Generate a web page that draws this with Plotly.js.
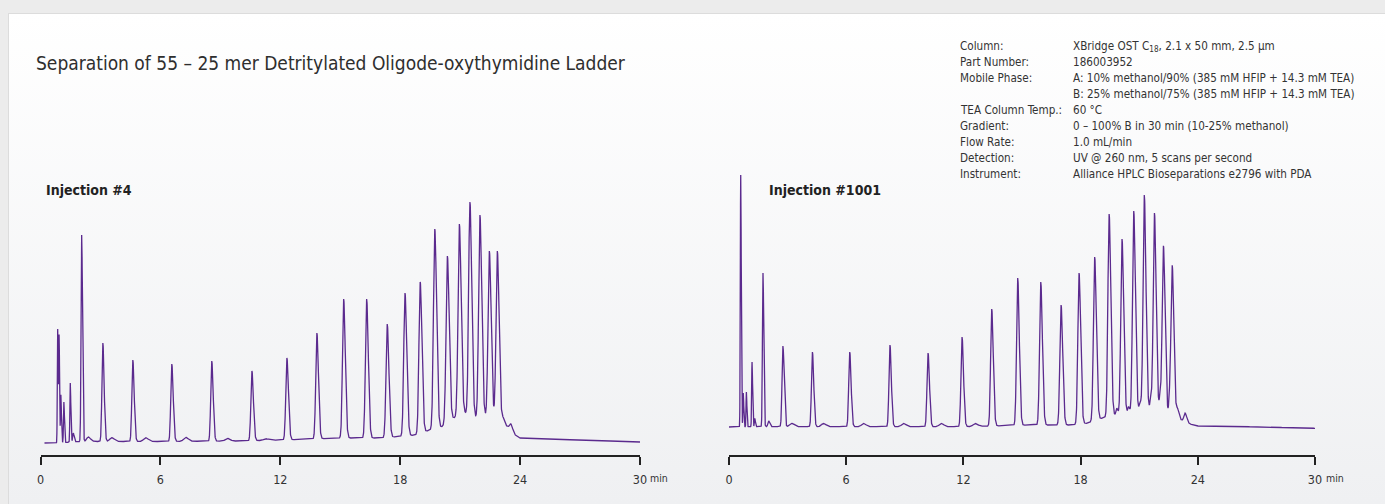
<!DOCTYPE html>
<html><head><meta charset="utf-8">
<script src="https://cdn.plot.ly/plotly-3.0.1.min.js"></script>
<style>
html,body{margin:0;padding:0;width:1385px;height:504px;overflow:hidden;background:#ececec;}
#panel{position:absolute;left:8px;top:13px;right:0;bottom:0;background:linear-gradient(#ffffff,#eff0f2);border-top:1px solid #dcdcdc;border-left:1px solid #dcdcdc;}
#chart{position:absolute;left:0;top:0;width:1385px;height:504px;}
</style></head><body><div id="panel"></div><div id="chart"></div>
<script>
// ---------- DATA ----------
const xTicks = [0, 6, 12, 18, 24, 30];
const xTickLabels = ['0', '6', '12', '18', '24', '30'];

// Injection #4: retention time (min), apex signal, peak sigma (min)
const inj4PeakTime  = [0.86,0.93,1.02,1.17,1.49,1.64,2.06,2.39,3.12,3.56,4.62,5.26,6.57,7.26,8.57,9.34,10.58,11.27,12.33,13.83,15.17,16.32,17.35,18.24,19.00,19.73,20.36,20.96,21.49,21.99,22.46,22.86,23.14,23.54];
const inj4PeakLevel = [126,118,60,53,72,22,220,18,112,17.3,95,17.3,91,17.7,94,16.7,84,16.3,97,122,156,156,131,162,173,226,199,231,253,240,204,204,37,31];
const inj4PeakSigma = [0.018,0.018,0.018,0.02,0.02,0.03,0.03,0.08,0.045,0.1,0.048,0.1,0.05,0.1,0.05,0.1,0.052,0.1,0.055,0.056,0.058,0.06,0.06,0.062,0.062,0.065,0.065,0.065,0.065,0.065,0.065,0.065,0.05,0.06];
const inj4BaseTime  = [0.2,0.8,2,6,10,12,13.5,15,16,16.94,17.9,18.74,19.49,20.07,20.65,21.24,21.74,22.19,22.66,23.0,23.4,23.75,24.0,25,27,30];
const inj4BaseLevel = [12,12,13.5,13.5,14,15,16,17,17,17,18.3,20,25,28,36.7,41.7,36.7,38.3,36.7,31.7,28.3,20,17,16,15,13];

// Injection #1001
const inj1001PeakTime  = [0.60,0.73,0.89,1.18,1.32,1.74,2.03,2.76,3.21,4.27,4.83,6.18,6.88,8.24,8.93,10.19,10.86,11.93,12.60,13.45,14.78,15.96,17.00,17.92,18.72,19.46,19.85,20.12,20.45,20.72,21.04,21.26,21.59,21.78,22.07,22.24,22.55,22.69,22.96,23.35];
const inj1001PeakLevel = [280,62,63,93,36.7,182,34,109,31.7,103,31.5,103,31.5,110,31.5,102,31.5,118,31.5,146,177,173,150,182,198,241,46.7,216,48.3,244,53.3,260,56.7,242,58.3,209,55,189,46,42];
const inj1001PeakSigma = [0.02,0.018,0.018,0.02,0.02,0.028,0.04,0.045,0.1,0.048,0.1,0.05,0.1,0.05,0.1,0.052,0.1,0.054,0.1,0.056,0.058,0.06,0.06,0.06,0.062,0.062,0.04,0.062,0.04,0.062,0.04,0.062,0.04,0.062,0.04,0.062,0.04,0.062,0.05,0.06];
const inj1001BaseTime  = [0,1,12,15.5,17.5,18.3,19.08,19.76,20.36,20.87,21.39,21.9,22.41,22.84,23.15,23.6,23.9,25,30];
const inj1001BaseLevel = [28,28.3,28.3,30,30,31.7,36.7,40,41,43,45,45,40,36.7,35,31,29,29,26.7];

const TAIL = 1.4;       // right/left half-width ratio of the peaks
const STEP = 0.005;     // sampling step, min

// ---------- helpers ----------
function baselineAt(t, bt, bv){
  if (t <= bt[0]) return bv[0];
  for (let i = 1; i < bt.length; i++){
    if (t <= bt[i]){ const f = (t - bt[i-1]) / (bt[i] - bt[i-1]); return bv[i-1] + f * (bv[i] - bv[i-1]); }
  }
  return bv[bv.length - 1];
}
function buildTrace(t0, t1, pt, pl, ps, bt, bv){
  const amps = pt.map((p, i) => pl[i] - baselineAt(p, bt, bv));
  const xs = [], ys = [];
  const n = Math.round((t1 - t0) / STEP);
  for (let k = 0; k <= n; k++){
    const t = t0 + k * STEP;
    let s = baselineAt(t, bt, bv);
    for (let i = 0; i < pt.length; i++){
      const sg = t < pt[i] ? ps[i] : ps[i] * TAIL;
      const d = (t - pt[i]) / sg;
      if (Math.abs(d) < 8) s += amps[i] * Math.exp(-0.5 * d * d);
    }
    xs.push(t); ys.push(s);
  }
  return {x: xs, y: ys};
}

const W = 1385, H = 504;
const px = v => v / W, py = v => 1 - v / H;
const FONT = '"DejaVu Sans Condensed", "Liberation Sans Narrow", sans-serif';
const LINE = '#5b2a8e';

const a = buildTrace(0.2, 30, inj4PeakTime, inj4PeakLevel, inj4PeakSigma, inj4BaseTime, inj4BaseLevel);
const b = buildTrace(0, 30, inj1001PeakTime, inj1001PeakLevel, inj1001PeakSigma, inj1001BaseTime, inj1001BaseLevel);

const traces = [
  {x: a.x, y: a.y, type: 'scatter', mode: 'lines', xaxis: 'x', yaxis: 'y', line: {color: LINE, width: 1.3}, hoverinfo: 'skip', name: 'Injection #4'},
  {x: b.x, y: b.y, type: 'scatter', mode: 'lines', xaxis: 'x2', yaxis: 'y2', line: {color: LINE, width: 1.3}, hoverinfo: 'skip', name: 'Injection #1001'}
];

const yDom = [py(455), py(155)];
function xAxis(dom, anchor){
  return {domain: dom, anchor: anchor, range: [0, 30], fixedrange: true,
    tickvals: xTicks, ticktext: xTickLabels, ticks: 'outside', ticklen: 8, tickwidth: 2, tickcolor: '#222',
    showline: true, linecolor: '#222', linewidth: 1.5, showgrid: false, zeroline: false,
    tickfont: {family: FONT, size: 12.5, color: '#333'}, ticklabelstandoff: 4};
}
function yAxis(anchor){
  return {domain: yDom, anchor: anchor, range: [0, 300], visible: false, fixedrange: true};
}

const infoLabels = ['Column:', 'Part Number:', 'Mobile Phase:', '', 'TEA Column Temp.:', 'Gradient:', 'Flow Rate:', 'Detection:', 'Instrument:'];
const infoValues = ['XBridge OST C<sub>18</sub>, 2.1 x 50 mm, 2.5 µm', '186003952',
  'A: 10% methanol/90% (385 mM HFIP + 14.3 mM TEA)', 'B: 25% methanol/75% (385 mM HFIP + 14.3 mM TEA)',
  '60 °C', '0 – 100% B in 30 min (10-25% methanol)', '1.0 mL/min', 'UV @ 260 nm, 5 scans per second',
  'Alliance HPLC Bioseparations e2796 with PDA'];

const ann = [];
function txt(text, x, y, size, color, opts){
  ann.push(Object.assign({text: text, xref: 'paper', yref: 'paper', x: px(x), y: py(y), xanchor: 'left', yanchor: 'middle',
    showarrow: false, font: {family: FONT, size: size, color: color || '#333'}}, opts || {}));
}
txt('Separation of 55 – 25 mer Detritylated Oligode-oxythymidine Ladder', 34, 63, 19, '#2e2e2e');
infoLabels.forEach((l, i) => { if (l) txt(l, 958, 46 + i * 16.04, 11.6); });
infoValues.forEach((v, i) => txt(v, 1071, 46 + i * 16.04, 11.6));
txt('<b>Injection #4</b>', 44, 190, 14, '#222');
txt('<b>Injection #1001</b>', 767, 190, 14, '#222');
txt('min', 648, 478, 10.5);
txt('min', 1324, 478, 10.5);

const layout = {
  width: W, height: H, autosize: false, margin: {l: 0, r: 0, t: 0, b: 0},
  paper_bgcolor: 'rgba(0,0,0,0)', plot_bgcolor: 'rgba(0,0,0,0)', showlegend: false,
  xaxis: xAxis([px(40.5), px(640)], 'y'), yaxis: yAxis('x'),
  xaxis2: xAxis([px(729), px(1315)], 'y2'), yaxis2: yAxis('x2'),
  annotations: ann
};
Plotly.newPlot('chart', traces, layout, {displayModeBar: false, staticPlot: true});
</script></body></html>
